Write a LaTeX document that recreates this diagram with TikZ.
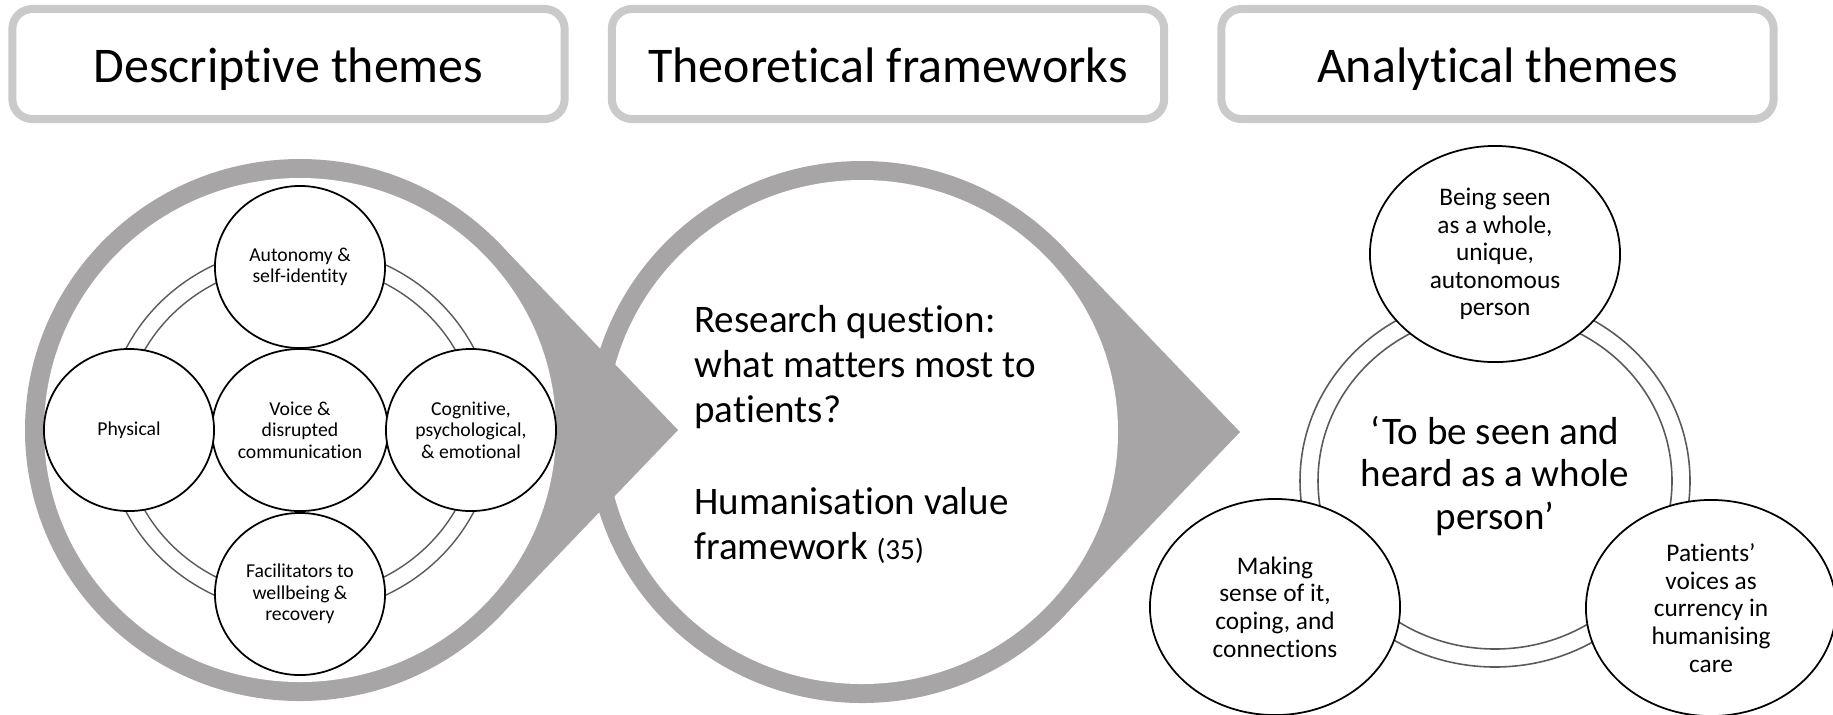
\documentclass[tikz,border=0pt]{standalone}
\usepackage{fontspec}
\setmainfont{Carlito}[Ligatures={TeX,NoCommon}]
\usepackage{xcolor}
\usepackage{tikz}
\usetikzlibrary{shapes, calc}
\definecolor{ringgray}{RGB}{167,165,165}
\definecolor{framegray}{RGB}{202,202,202}
\definecolor{linegray}{RGB}{90,90,90}
\tikzstyle{heading} = [rectangle, rounded corners=0.2cm, draw=framegray, line width=0.08cm, fill=white, minimum width=5.52cm, minimum height=1.10cm, text height=0.5cm, text depth=0.14cm, font=\fontsize{14.2}{17}\selectfont]
\tikzstyle{theme} = [ellipse, draw=black, line width=0.5pt, fill=white, inner sep=0pt, minimum width=1.70cm, minimum height=1.62cm, align=center, font=\fontsize{5.6}{6.1}\selectfont]
\tikzstyle{finding} = [ellipse, draw=black, line width=0.5pt, fill=white, inner sep=0pt, minimum width=2.50cm, minimum height=2.16cm, align=center, font=\fontsize{7.2}{7.85}\selectfont]

\begin{document}
\begin{tikzpicture}[x=0.01cm, y=-0.01cm]
    \useasboundingbox (0,0) rectangle (1833,714);

    \node (descriptive) [heading] at (288.5,64) {Descriptive themes};
    \node (theoretical) [heading] at (888,64) {Theoretical frameworks};
    \node (analytical) [heading] at (1497.5,64) {Analytical themes};

    % middle drop
    \coordinate (mc) at (862,432);
    \coordinate (mtip) at (1240,432);
    \fill[ringgray] (mc) ellipse [x radius=275, y radius=271];
    \fill[ringgray] (mtip) -- ($(mc)+(44:273)$) -- ($(mc)+(-44:273)$) -- cycle;
    \fill[white] (mc) ellipse [x radius=256, y radius=252];

    % left drop
    \coordinate (lc) at (300,430);
    \coordinate (ltip) at (678,430);
    \fill[ringgray] (lc) ellipse [x radius=275, y radius=271];
    \fill[ringgray] (ltip) -- ($(lc)+(44:273)$) -- ($(lc)+(-44:273)$) -- cycle;
    \fill[white] (lc) ellipse [x radius=256, y radius=252];

    \draw[linegray, line width=0.4pt] (lc) ellipse [x radius=194, y radius=184];
    \draw[linegray, line width=0.4pt] (lc) ellipse [x radius=177, y radius=167];

    \node (voice) [theme] at (300,430) {Voice \&\\disrupted\\communication};
    \node (autonomy) [theme] at (300,267) {Autonomy \&\\self-identity};
    \node (physical) [theme] at (129,430) {Physical};
    \node (cognitive) [theme] at (471,430) {Cognitive,\\psychological,\\\& emotional};
    \node (facilitators) [theme] at (300,594) {Facilitators to\\wellbeing \&\\recovery};

    \node (question) [anchor=west, align=left, font=\fontsize{11.1}{12.8}\selectfont] at (682,434) {Research question:\\what matters most to\\patients?\\[0.47cm]Humanisation value\\framework {\fontsize{8.3}{10}\selectfont (35)}};

    % right cluster
    \coordinate (rc) at (1495,481);
    \draw[linegray, line width=0.45pt] (rc) ellipse [x radius=195, y radius=186];
    \draw[linegray, line width=0.45pt] (rc) ellipse [x radius=177, y radius=168];

    \node (whole) [align=center, font=\fontsize{11.1}{12.1}\selectfont] at (1495,476) {‘To be seen and\\heard as a whole\\person’};
    \node (seen) [finding] at (1495,254) {Being seen\\as a whole,\\unique,\\autonomous\\person};
    \node (sense) [finding] at (1275,607) {Making\\sense of it,\\coping, and\\connections};
    \node (voices) [finding] at (1711,608) {Patients’\\voices as\\currency in\\humanising\\care};
\end{tikzpicture}
\end{document}
